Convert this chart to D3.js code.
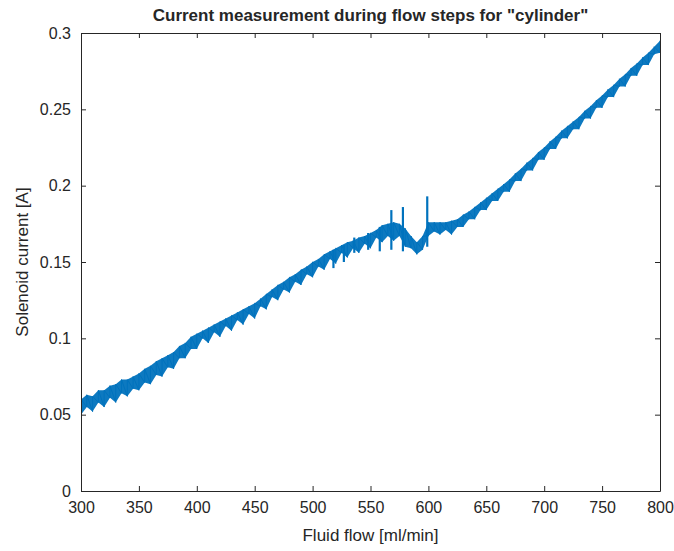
<!DOCTYPE html>
<html>
<head>
<meta charset="utf-8">
<script src="https://cdn.jsdelivr.net/npm/d3@7/dist/d3.min.js"></script>
<style>
  html, body { margin: 0; padding: 0; background: #fff; }
  svg { display: block; }
  text { font-family: "Liberation Sans", Arial, Helvetica, sans-serif; fill: #262626; }
</style>
</head>
<body>
<div id="chart"></div>
<script>
// ---- Data ----
const chartTitle = 'Current measurement during flow steps for "cylinder"';
const xLabel = "Fluid flow [ml/min]";
const yLabel = "Solenoid current [A]";

const xTicks = [300, 350, 400, 450, 500, 550, 600, 650, 700, 750, 800];
const yTicks = [0, 0.05, 0.1, 0.15, 0.2, 0.25, 0.3];
const yTickLabels = ["0", "0.05", "0.1", "0.15", "0.2", "0.25", "0.3"];

// flow samples (ml/min)
const flow = [300,305,310,315,320,325,330,335,340,345,350,355,360,365,370,375,380,385,390,395,
              400,405,410,415,420,425,430,435,440,445,450,455,460,465,470,475,480,485,490,495,
              500,505,510,515,520,525,530,535,540,545,550,555,560,565,570,575,580,585,590,595,
              600,605,610,615,620,625,630,635,640,645,650,655,660,665,670,675,680,685,690,695,
              700,705,710,715,720,725,730,735,740,745,750,755,760,765,770,775,780,785,790,795,800];
// upper envelope of the measured current (A)
const currentUpper = [0.060,0.063,0.062,0.066,0.066,0.069,0.070,0.073,0.073,0.075,
                      0.077,0.080,0.082,0.085,0.087,0.089,0.091,0.095,0.097,0.101,
                      0.103,0.105,0.107,0.109,0.111,0.113,0.115,0.117,0.119,0.121,
                      0.123,0.126,0.129,0.132,0.135,0.137,0.140,0.142,0.145,0.147,
                      0.150,0.152,0.155,0.157,0.159,0.161,0.163,0.164,0.166,0.167,
                      0.169,0.171,0.174,0.175,0.176,0.175,0.172,0.167,0.163,0.167,
                      0.176,0.176,0.176,0.176,0.177,0.178,0.181,0.183,0.186,0.189,
                      0.192,0.195,0.198,0.201,0.204,0.208,0.211,0.215,0.218,0.222,
                      0.225,0.229,0.232,0.236,0.239,0.242,0.245,0.249,0.252,0.256,
                      0.259,0.263,0.266,0.270,0.273,0.277,0.280,0.284,0.287,0.291,0.295];
// lower envelope of the measured current (A)
const currentLower = [0.050,0.055,0.052,0.058,0.055,0.061,0.058,0.064,0.062,0.067,
                      0.066,0.071,0.070,0.076,0.075,0.081,0.080,0.087,0.087,0.093,
                      0.093,0.100,0.097,0.104,0.101,0.108,0.105,0.112,0.109,0.116,
                      0.113,0.121,0.119,0.127,0.125,0.132,0.130,0.137,0.135,0.142,
                      0.140,0.147,0.145,0.152,0.149,0.156,0.153,0.159,0.156,0.162,
                      0.159,0.166,0.163,0.167,0.164,0.167,0.160,0.159,0.155,0.158,
                      0.167,0.170,0.168,0.171,0.168,0.173,0.173,0.178,0.178,0.184,
                      0.184,0.190,0.190,0.196,0.196,0.203,0.203,0.210,0.210,0.217,
                      0.217,0.224,0.224,0.231,0.231,0.237,0.237,0.244,0.244,0.251,
                      0.251,0.258,0.258,0.265,0.265,0.272,0.272,0.279,0.279,0.286,0.287];

// isolated transients around the unstable region
const spikeFlow   = [518, 527, 536, 548, 558, 568, 578, 599];
const spikeTop    = [0.158, 0.161, 0.166, 0.169, 0.173, 0.184, 0.186, 0.193];
const spikeBottom = [0.146, 0.150, 0.156, 0.158, 0.157, 0.158, 0.157, 0.160];

// ---- Layout ----
const W = 674, H = 551;
const m = { left: 81, right: 14, top: 33, bottom: 60 };
const innerW = W - m.left - m.right;
const innerH = H - m.top - m.bottom;
const blue = "#0072BD";
const axisColor = "#262626";

const svg = d3.select("#chart").append("svg").attr("width", W).attr("height", H);

const x = d3.scaleLinear().domain([300, 800]).range([m.left, m.left + innerW]);
const y = d3.scaleLinear().domain([0, 0.3]).range([m.top + innerH, m.top]);

svg.append("defs").append("clipPath").attr("id", "clip")
  .append("rect").attr("x", m.left).attr("y", m.top).attr("width", innerW).attr("height", innerH);

const g = svg.append("g").attr("clip-path", "url(#clip)");

const band = flow.map((f, i) => ({ f, hi: currentUpper[i], lo: currentLower[i] }));

// filled band
g.append("path")
  .datum(band)
  .attr("fill", blue)
  .attr("fill-opacity", 0.95)
  .attr("d", d3.area().x(d => x(d.f)).y0(d => y(d.lo)).y1(d => y(d.hi)));

// noisy trace: vertical strokes between low and high at each sample
const trace = [];
band.forEach(d => { trace.push([d.f, d.lo]); trace.push([d.f, d.hi]); });
g.append("path")
  .datum(trace)
  .attr("fill", "none")
  .attr("stroke", blue)
  .attr("stroke-width", 1)
  .attr("d", d3.line().x(d => x(d[0])).y(d => y(d[1])));

// spikes
g.selectAll("line.spike")
  .data(spikeFlow.map((f, i) => ({ f, t: spikeTop[i], b: spikeBottom[i] })))
  .join("line")
  .attr("class", "spike")
  .attr("x1", d => x(d.f)).attr("x2", d => x(d.f))
  .attr("y1", d => y(d.b)).attr("y2", d => y(d.t))
  .attr("stroke", blue).attr("stroke-width", 2.2);

// ---- Axes (MATLAB box style, ticks inside on all sides) ----
const tickLen = 5;
const xAxisB = d3.axisBottom(x).tickValues(xTicks).tickSizeInner(-tickLen).tickSizeOuter(0).tickPadding(11).tickFormat(d3.format("d"));
const xAxisT = d3.axisTop(x).tickValues(xTicks).tickSizeInner(-tickLen).tickSizeOuter(0).tickFormat("");
const yAxisL = d3.axisLeft(y).tickValues(yTicks).tickSizeInner(-tickLen).tickSizeOuter(0).tickPadding(10)
  .tickFormat((d, i) => yTickLabels[i]);
const yAxisR = d3.axisRight(y).tickValues(yTicks).tickSizeInner(-tickLen).tickSizeOuter(0).tickFormat("");

function style(sel) {
  sel.select(".domain").attr("stroke", axisColor).attr("stroke-width", 1);
  sel.selectAll(".tick line").attr("stroke", axisColor).attr("stroke-width", 1);
  sel.selectAll(".tick text").attr("fill", axisColor).style("font-size", "16px")
    .style("font-family", '"Liberation Sans", Arial, sans-serif');
}

svg.append("g").attr("transform", `translate(0,${m.top + innerH})`).call(xAxisB).call(style);
svg.append("g").attr("transform", `translate(0,${m.top})`).call(xAxisT).call(style);
svg.append("g").attr("transform", `translate(${m.left},0)`).call(yAxisL).call(style);
svg.append("g").attr("transform", `translate(${m.left + innerW},0)`).call(yAxisR).call(style);

// ---- Labels ----
svg.append("text")
  .attr("x", m.left + innerW / 2).attr("y", 21)
  .attr("text-anchor", "middle")
  .style("font-size", "17px").style("font-weight", "bold")
  .text(chartTitle);

svg.append("text")
  .attr("x", m.left + innerW / 2).attr("y", 541)
  .attr("text-anchor", "middle")
  .style("font-size", "17px")
  .text(xLabel);

svg.append("text")
  .attr("transform", `translate(28,${m.top + innerH / 2}) rotate(-90)`)
  .attr("text-anchor", "middle")
  .style("font-size", "17px")
  .text(yLabel);
</script>
</body>
</html>
